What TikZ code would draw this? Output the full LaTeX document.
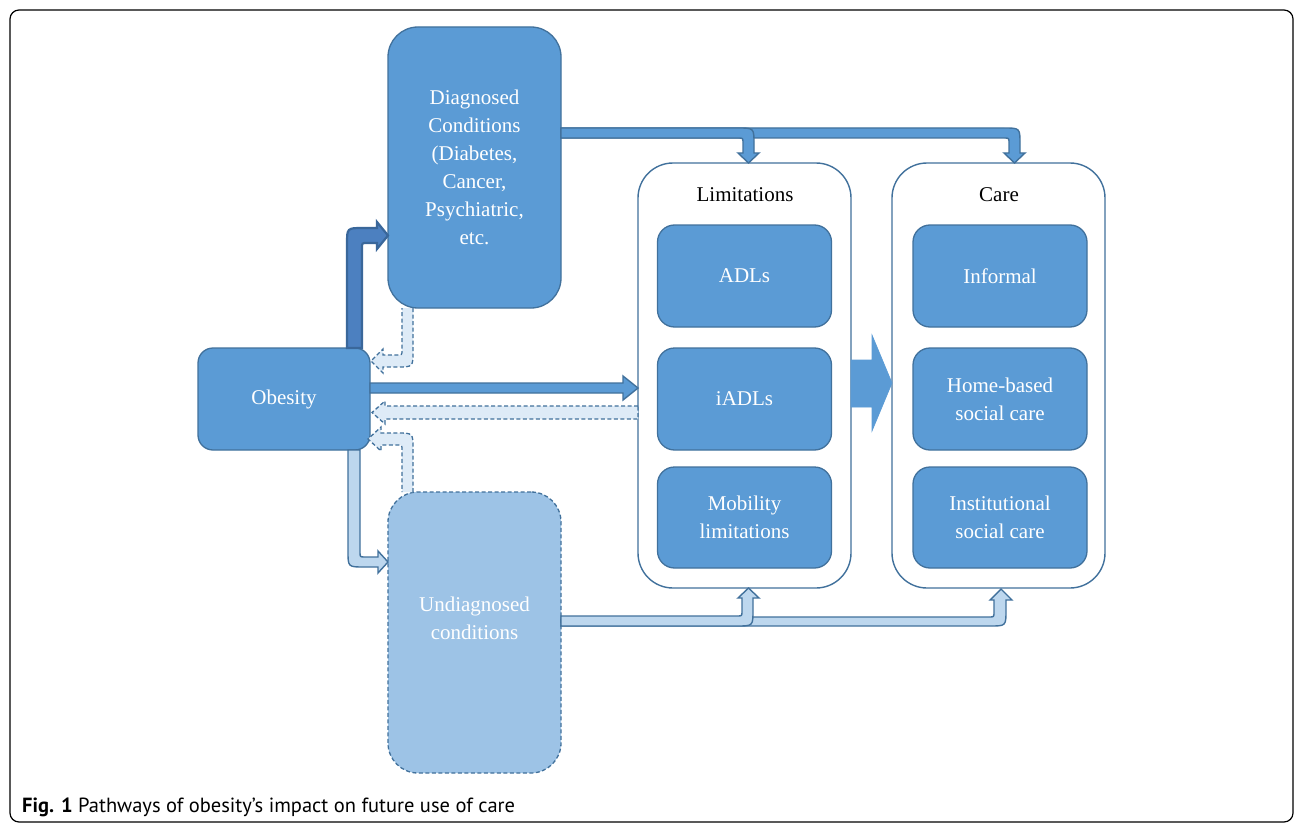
\documentclass[tikz,border=0pt]{standalone}
\usepackage{fontspec}
\setmainfont{Liberation Serif}
\newfontfamily\capfont{PT Sans}
\definecolor{boxblue}{HTML}{5B9BD5}
\definecolor{edgeblue}{HTML}{41719C}
\definecolor{lightblue}{HTML}{9DC3E6}
\definecolor{paleblue}{HTML}{DEEBF7}
\definecolor{arrlight}{HTML}{BDD7EE}
\definecolor{darkfill}{HTML}{4C80C0}
\definecolor{darkedge}{HTML}{3A679A}
\tikzset{
  box/.style={rectangle, rounded corners=#1, draw=edgeblue, line width=1.3pt, fill=boxblue,
    text=white, inner sep=0pt, outer sep=0pt, align=center,
    font=\fontsize{21}{28}\selectfont},
  box/.default=17pt,
  ubox/.style={rectangle, rounded corners=30pt, draw=edgeblue, line width=1.3pt, fill=lightblue,
    dash pattern=on 4pt off 2.5pt, inner sep=0pt, outer sep=0pt},
  container/.style={rectangle, rounded corners=35pt, draw=edgeblue, line width=1.4pt, fill=white,
    inner sep=0pt, outer sep=0pt},
  title/.style={text=black, font=\fontsize{21}{28}\selectfont},
  solidarrow/.style={draw=edgeblue, line width=1.4pt, fill=boxblue, line join=miter},
  lightarrow/.style={draw=edgeblue, line width=1.4pt, fill=arrlight, line join=miter},
  dasharrow/.style={draw=edgeblue, line width=1.3pt, fill=paleblue, dash pattern=on 4pt off 2.5pt, line join=miter},
  darkarrow/.style={draw=darkedge, line width=2.2pt, fill=darkfill, line join=miter},
}
\begin{document}
\begin{tikzpicture}[x=1pt,y=-1pt]
\useasboundingbox (0,0) rectangle (1296,824);
\fill[white] (0,0) rectangle (1296,824);
\node[draw=black, line width=1.2pt, rounded corners=9pt, minimum width=1283pt, minimum height=812pt,
  inner sep=0pt, outer sep=0pt] (frame) at (651.5,416) {};

% containers
\node[container, minimum width=213pt, minimum height=425pt] (lim) at (744.5,375.5) {};
\node[container, minimum width=213pt, minimum height=425pt] (care) at (998.5,375.5) {};
\node[title] (limt) at (745,195) {Limitations};
\node[title] (caret) at (999,195) {Care};

% big arrow between containers
\draw[fill=boxblue, draw=boxblue, line width=0.6pt] (lim.east |- 0,360) -- (872,360) -- (872,335) -- (care.west |- 0,383)
  -- (872,431) -- (872,407) -- (lim.east |- 0,407) -- cycle;

% main boxes
\node[box=30pt, minimum width=173pt, minimum height=281pt] (diag) at (474.5,167.5)
  {Diagnosed\\Conditions\\(Diabetes,\\Cancer,\\Psychiatric,\\etc.};
\node[box=15pt, minimum width=172pt, minimum height=102pt] (obes) at (284,399) {Obesity};
\node[ubox, minimum width=173pt, minimum height=281pt] (undiag) at (474.5,632.5) {};
\node[text=white, align=center, font=\fontsize{21}{28}\selectfont] (undiagt) at (474.5,618) {Undiagnosed\\conditions};

% inner boxes
\node[box, minimum width=174pt, minimum height=102pt] (adl) at (744.5,276) {ADLs};
\node[box, minimum width=174pt, minimum height=102pt] (iadl) at (744.5,399) {iADLs};
\node[box, minimum width=174pt, minimum height=101pt] (mob) at (744.5,517.5) {Mobility\\limitations};
\node[box, minimum width=174pt, minimum height=102pt] (inf) at (1000,276) {Informal};
\node[box, minimum width=174pt, minimum height=102pt] (home) at (1000,399) {Home-based\\social care};
\node[box, minimum width=174pt, minimum height=101pt] (inst) at (1000,517.5) {Institutional\\social care};

% Diagnosed -> Care (drawn first)
\draw[solidarrow] (diag.east |- 0,128) -- (1004,128) .. controls (1020,128) .. (1020,144) -- (1020,153)
  -- (1025,153) -- (care.north -| 1014.5,0) -- (1004,153) -- (1009,153) -- (1009,143)
  .. controls (1009,138) .. (1004,138) -- (diag.east |- 0,138) -- cycle;
% Diagnosed -> Limitations
\draw[solidarrow] (diag.east |- 0,128) -- (738,128) .. controls (754,128) .. (754,144) -- (754,153)
  -- (759,153) -- (lim.north -| 748.5,0) -- (738,153) -- (743,153) -- (743,143)
  .. controls (743,138) .. (738,138) -- (diag.east |- 0,138) -- cycle;

% Undiagnosed -> Care (drawn first)
\draw[lightarrow] (undiag.east |- 0,617) -- (989,617) .. controls (994,617) .. (994,612) -- (994,600)
  -- (990,600) -- (1001,589) -- (1012,600) -- (1006,600) -- (1006,610)
  .. controls (1006,626) .. (990,626) -- (undiag.east |- 0,626) -- cycle;
% Undiagnosed -> Limitations
\draw[lightarrow] (undiag.east |- 0,616) -- (737,616) .. controls (742,616) .. (742,611) -- (742,598)
  -- (738,598) -- (lim.south -| 748.5,0) -- (759,598) -- (753,598) -- (753,610)
  .. controls (753,626) .. (737,626) -- (undiag.east |- 0,626) -- cycle;

% Obesity -> Diagnosed (dark)
\draw[darkarrow] (obes.north -| 347,0) -- (347,244) .. controls (347,228) .. (363,228) -- (377,228)
  -- (377,222) -- (diag.west |- 0,235.5) -- (377,249) -- (377,243) -- (367,243)
  .. controls (362,243) .. (362,248) -- (obes.north -| 362,0) -- cycle;

% Diagnosed -> Obesity (dashed)
\draw[dasharrow] (diag.south -| 413,0) -- (413,351) .. controls (413,367) .. (397,367) -- (383,367)
  -- (383,373) -- (371,361) -- (383,349) -- (383,355) -- (397,355)
  .. controls (402,355) .. (402,350) -- (diag.south -| 402,0);

% Obesity -> Limitations
\draw[solidarrow] (obes.east |- 0,383) -- (623,383) -- (623,376) -- (lim.west |- 0,388) -- (623,400)
  -- (623,393) -- (obes.east |- 0,393) -- cycle;

% Limitations -> Obesity (dashed)
\draw[dasharrow] (lim.west |- 0,406) -- (385,406) -- (385,401) -- (372,412.5) -- (385,424)
  -- (385,419) -- (lim.west |- 0,419) -- cycle;

% Undiagnosed -> Obesity (dashed)
\draw[dasharrow] (undiag.north -| 413,0) -- (413,449) .. controls (413,433) .. (397,433) -- (381,433)
  -- (381,427) -- (368,439) -- (381,451) -- (381,445) -- (397,445)
  .. controls (402,445) .. (402,450) -- (undiag.north -| 402,0);

% Obesity -> Undiagnosed
\draw[lightarrow] (obes.south -| 348,0) -- (348,551) .. controls (348,567) .. (364,567) -- (378,567)
  -- (378,573) -- (undiag.west |- 0,562) -- (378,551) -- (378,557) -- (365,557)
  .. controls (360,557) .. (360,552) -- (obes.south -| 360,0) -- cycle;

% caption
\node[anchor=base west, inner sep=0pt, font=\capfont\fontsize{20.5}{24}\selectfont] (cap) at (22,812)
  {\textbf{Fig. 1} Pathways of obesity’s impact on future use of care};
\end{tikzpicture}
\end{document}
